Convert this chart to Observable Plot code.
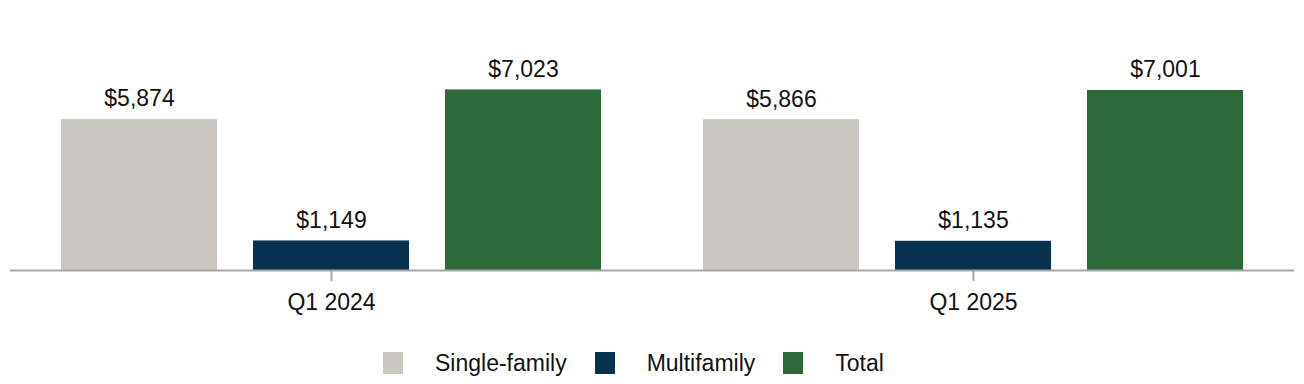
<!DOCTYPE html>
<html>
<head>
<meta charset="utf-8">
<script src="https://cdn.jsdelivr.net/npm/d3@7"></script>
<script src="https://cdn.jsdelivr.net/npm/@observablehq/plot@0.6"></script>
<style>
  html, body { margin: 0; padding: 0; background: #fff; }
  body { width: 1304px; height: 384px; overflow: hidden; font-family: "Liberation Sans", Arial, sans-serif; }
  #chart svg { display: block; }
  #legend { display: flex; align-items: center; height: 22px; margin-top: 22px; padding-left: 383px; font-size: 23px; color: #111; }
  #legend .sw { width: 20px; height: 22px; margin-right: 32px; }
  #legend .lb { margin-right: 28px; }
</style>
</head>
<body>
<div id="chart"></div>
<div id="legend"></div>
<script>
const periods = ["Q1 2024", "Q1 2025"];
const series = ["Single-family", "Multifamily", "Total"];
const colors = ["#cbc8c3", "#07324f", "#2d6a39"];
const singleFamily = [5874, 5866];
const multifamily = [1149, 1135];
const total = [7023, 7001];

const valuesBySeries = [singleFamily, multifamily, total];
const data = [];
periods.forEach((p, i) => {
  series.forEach((s, j) => data.push({period: p, series: s, value: valuesBySeries[j][i]}));
});

const fmt = v => "$" + d3.format(",")(v);

const chart = Plot.plot({
  width: 1304,
  height: 330,
  marginLeft: 10,
  marginRight: 10,
  marginTop: 0,
  marginBottom: 60,
  style: {fontFamily: "Liberation Sans, Arial, sans-serif", fontSize: "23px", color: "#111", background: "#fff"},
  fx: {domain: periods, padding: 0, label: null},
  x: {domain: series, paddingInner: 0.19, paddingOuter: 0.26, axis: null},
  y: {domain: [0, 10500], axis: null},
  color: {domain: series, range: colors},
  marks: [
    Plot.barY(data, {fx: "period", x: "series", y: "value", fill: "series"}),
    Plot.text(data, {fx: "period", x: "series", y: "value", text: d => fmt(d.value), dy: -13, lineAnchor: "bottom", fill: "#111", fontSize: 23}),
    Plot.ruleY([0], {stroke: "#a6a6a6", strokeWidth: 2}),
    Plot.axisFx({anchor: "bottom", tickSize: 11, stroke: "#a6a6a6", strokeWidth: 2, tickPadding: 12, fontSize: 23, label: null})
  ]
});
document.getElementById("chart").appendChild(chart);

const legend = document.getElementById("legend");
series.forEach((s, i) => {
  const sw = document.createElement("div");
  sw.className = "sw";
  sw.style.background = colors[i];
  const lb = document.createElement("div");
  lb.className = "lb";
  lb.textContent = s;
  legend.appendChild(sw);
  legend.appendChild(lb);
});
</script>
</body>
</html>
